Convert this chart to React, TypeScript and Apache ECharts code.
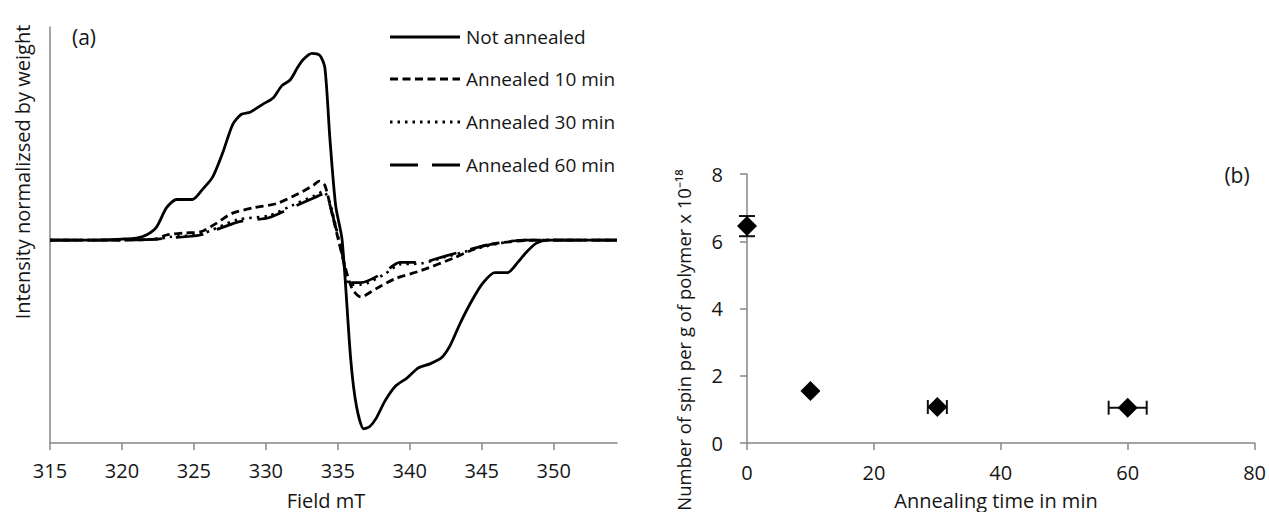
import React, { useEffect, useRef } from "react";
import * as echarts from "echarts";

// ---- Panel (a): EPR spectra (field in mT, intensity normalised by weight, arbitrary units)
const seriesNames = ["Not annealed", "Annealed 10 min", "Annealed 30 min", "Annealed 60 min"];

const notAnnealed: [number, number][] = [
  [315, 0], [318, 0], [320, 0.005], [321, 0.01], [321.7, 0.025], [322.4, 0.064], [323.1, 0.16],
  [323.8, 0.2], [324.9, 0.2], [325.6, 0.25], [326.3, 0.31], [327.0, 0.43], [327.7, 0.57],
  [328.3, 0.62], [328.9, 0.63], [329.8, 0.67], [330.5, 0.7], [331.1, 0.76], [331.7, 0.79],
  [332.2, 0.85], [332.6, 0.89], [333.2, 0.92], [333.75, 0.91], [334.1, 0.85], [334.45, 0.5],
  [334.85, 0.17], [335.3, 0], [335.9, -0.59], [336.3, -0.82], [336.8, -0.93], [337.2, -0.92],
  [337.65, -0.88], [338.3, -0.79], [339.0, -0.72], [339.8, -0.68], [340.6, -0.63], [341.4, -0.61],
  [342.2, -0.58], [342.8, -0.52], [343.5, -0.41], [344.3, -0.3], [345.1, -0.21], [345.9, -0.16],
  [346.8, -0.16], [347.5, -0.11], [348.1, -0.06], [348.8, -0.015], [349.6, 0], [352, 0], [354.4, 0],
];

const annealed10: [number, number][] = [
  [315, 0], [320, 0], [322.3, 0.005], [323.1, 0.025], [324.3, 0.035], [325.45, 0.04], [326.5, 0.08],
  [327.6, 0.13], [329.2, 0.16], [330.75, 0.18], [332.3, 0.23], [333.3, 0.27], [333.7, 0.29],
  [334.1, 0.27], [334.7, 0.1], [335.5, -0.13], [336.0, -0.24], [336.6, -0.28], [337.65, -0.24],
  [339.0, -0.19], [340.8, -0.15], [343.0, -0.09], [344.8, -0.035], [346.1, -0.015], [348.8, 0], [354.4, 0],
];

const annealed30: [number, number][] = [
  [315, 0], [320, 0], [322.5, 0.005], [323.3, 0.015], [325.5, 0.03], [328.0, 0.1], [330.2, 0.12],
  [331.8, 0.17], [333.4, 0.22], [334.0, 0.24], [334.5, 0.17], [335.3, -0.07], [335.8, -0.22],
  [336.6, -0.22], [338.2, -0.17], [339.3, -0.12], [340.8, -0.115], [342.4, -0.085], [344.5, -0.045],
  [346.1, -0.018], [348, 0], [354.4, 0],
];

const annealed60: [number, number][] = [
  [315, 0], [320, 0], [322.5, 0.005], [323.1, 0.01], [325.45, 0.025], [328.1, 0.09], [330.2, 0.11],
  [331.8, 0.16], [333.4, 0.21], [334.1, 0.23], [334.5, 0.16], [335.3, -0.065], [335.8, -0.21],
  [336.6, -0.21], [338.2, -0.16], [339.3, -0.11], [340.8, -0.11], [342.4, -0.08], [344.5, -0.04],
  [346.1, -0.015], [348, 0], [354.4, 0],
];

const fieldTicks = [315, 320, 325, 330, 335, 340, 345, 350];

// ---- Panel (b): spins per g vs annealing time
const annealTimes = [0, 10, 30, 60];
const spinCounts = [6.45, 1.55, 1.07, 1.05];
const spinErr = [0.3, 0, 0, 0];
const timeErr = [0, 0, 1.5, 3];

const FONT = "Open Sans";
const TXT = "#161616";
const AXIS = "#878787";

const dashStyles: any[] = ["solid", [8, 4.5], [2.5, 5], [28, 14]];
const lineWidths = [2.8, 2.8, 2.6, 2.8];

export default function App() {
  const ref = useRef<HTMLDivElement>(null);

  useEffect(() => {
    if (!ref.current) return;
    const chart = echarts.init(ref.current, null, { renderer: "svg" });

    const lineSeries = [notAnnealed, annealed10, annealed30, annealed60].map((d, i) => ({
      type: "line",
      name: seriesNames[i],
      xAxisIndex: 0,
      yAxisIndex: 0,
      symbol: "none",
      smooth: 0.25,
      z: 3,
      data: d,
      lineStyle: { color: "#000", width: lineWidths[i], type: dashStyles[i] },
      itemStyle: { color: "#000" },
    }));

    // legend drawn as graphic: a line sample and a label per series
    const legendRowsY = [37, 79, 122, 165];
    const legendGraphics: any[] = [];
    seriesNames.forEach((name, i) => {
      const y = legendRowsY[i];
      legendGraphics.push({
        type: "line",
        shape: { x1: 390, y1: y, x2: 460, y2: y },
        style: {
          stroke: "#000",
          lineWidth: 3,
          lineDash: dashStyles[i] === "solid" ? null : dashStyles[i],
        },
      });
      legendGraphics.push({
        type: "text",
        x: 466,
        y,
        style: { text: name, fontFamily: FONT, fontSize: 19, fill: TXT, align: "left", verticalAlign: "middle" },
      });
    });

    chart.setOption({
      animation: false,
      backgroundColor: "#ffffff",
      textStyle: { fontFamily: FONT, color: TXT },
      grid: [
        { left: 50, top: 27, width: 567, height: 416 },
        { left: 747, top: 174, width: 510, height: 269 },
      ],
      xAxis: [
        {
          type: "value",
          gridIndex: 0,
          min: 315,
          max: 354.4,
          interval: 5,
          axisLine: { show: true, onZero: false, lineStyle: { color: AXIS, width: 1.5 } },
          axisTick: { show: true, length: 7, customValues: fieldTicks, lineStyle: { color: AXIS, width: 1.5 } },
          axisLabel: { customValues: fieldTicks, fontSize: 20, color: TXT, margin: 17, fontFamily: FONT },
          splitLine: { show: false },
        },
        {
          type: "value",
          gridIndex: 1,
          min: 0,
          max: 80,
          interval: 20,
          axisLine: { show: true, onZero: false, lineStyle: { color: AXIS, width: 1.5 } },
          axisTick: { show: true, length: 7, lineStyle: { color: AXIS, width: 1.5 } },
          axisLabel: { fontSize: 20, color: TXT, margin: 19, fontFamily: FONT },
          splitLine: { show: false },
        },
      ],
      yAxis: [
        {
          type: "value",
          gridIndex: 0,
          min: -1,
          max: 1.05,
          axisLine: { show: true, lineStyle: { color: AXIS, width: 1.5 } },
          axisTick: { show: false },
          axisLabel: { show: false },
          splitLine: { show: false },
        },
        {
          type: "value",
          gridIndex: 1,
          min: 0,
          max: 8,
          interval: 2,
          axisLine: { show: true, onZero: false, lineStyle: { color: AXIS, width: 1.5 } },
          axisTick: { show: true, length: 7, lineStyle: { color: AXIS, width: 1.5 } },
          axisLabel: { fontSize: 20, color: TXT, margin: 24, fontFamily: FONT },
          splitLine: { show: false },
        },
      ],
      series: [
        ...lineSeries,
        {
          type: "custom",
          name: "errors",
          xAxisIndex: 1,
          yAxisIndex: 1,
          silent: true,
          z: 2,
          encode: { x: 0, y: 1 },
          data: annealTimes.map((t, i) => [t, spinCounts[i], timeErr[i], spinErr[i]]),
          renderItem: (params: any, api: any) => {
            const x = api.value(0);
            const y = api.value(1);
            const ex = api.value(2);
            const ey = api.value(3);
            const style = { stroke: "#111", lineWidth: 2 };
            const children: any[] = [];
            if (ey > 0) {
              const a = api.coord([x, y - ey]);
              const b = api.coord([x, y + ey]);
              children.push({ type: "line", shape: { x1: a[0], y1: a[1], x2: b[0], y2: b[1] }, style });
              children.push({ type: "line", shape: { x1: a[0] - 8, y1: a[1], x2: a[0] + 8, y2: a[1] }, style });
              children.push({ type: "line", shape: { x1: b[0] - 8, y1: b[1], x2: b[0] + 8, y2: b[1] }, style });
            }
            if (ex > 0) {
              const a = api.coord([x - ex, y]);
              const b = api.coord([x + ex, y]);
              children.push({ type: "line", shape: { x1: a[0], y1: a[1], x2: b[0], y2: b[1] }, style });
              children.push({ type: "line", shape: { x1: a[0], y1: a[1] - 7, x2: a[0], y2: a[1] + 7 }, style });
              children.push({ type: "line", shape: { x1: b[0], y1: b[1] - 7, x2: b[0], y2: b[1] + 7 }, style });
            }
            return { type: "group", children };
          },
        },
        {
          type: "scatter",
          name: "spins",
          xAxisIndex: 1,
          yAxisIndex: 1,
          symbol: "diamond",
          symbolSize: [20, 20],
          itemStyle: { color: "#000", opacity: 1 },
          z: 4,
          data: annealTimes.map((t, i) => [t, spinCounts[i]]),
        },
      ],
      graphic: [
        ...legendGraphics,
        {
          type: "text",
          x: 22,
          y: 172,
          rotation: Math.PI / 2,
          style: { text: "Intensity normalizsed by weight", fontFamily: FONT, fontSize: 20, fill: TXT, align: "center", verticalAlign: "middle" },
        },
        {
          type: "text",
          x: 326,
          y: 500,
          style: { text: "Field mT", fontFamily: FONT, fontSize: 20, fill: TXT, align: "center", verticalAlign: "middle" },
        },
        {
          type: "text",
          x: 84,
          y: 37,
          style: { text: "(a)", fontFamily: FONT, fontSize: 21, fill: TXT, align: "center", verticalAlign: "middle" },
        },
        {
          type: "text",
          x: 1237,
          y: 175,
          style: { text: "(b)", fontFamily: FONT, fontSize: 21, fill: TXT, align: "center", verticalAlign: "middle" },
        },
        {
          type: "text",
          x: 683,
          y: 340,
          rotation: Math.PI / 2,
          style: { text: "Number of spin per g of polymer x 10⁻¹⁸", fontFamily: FONT, fontSize: 18.5, fill: TXT, align: "center", verticalAlign: "middle" },
        },
        {
          type: "text",
          x: 996,
          y: 500,
          style: { text: "Annealing time in min", fontFamily: FONT, fontSize: 20, fill: TXT, align: "center", verticalAlign: "middle" },
        },
      ],
    });

    return () => chart.dispose();
  }, []);

  return (
    <div
      ref={ref}
      style={{ position: "absolute", left: 0, top: 0, width: 1269, height: 512, background: "#fff" }}
    />
  );
}
